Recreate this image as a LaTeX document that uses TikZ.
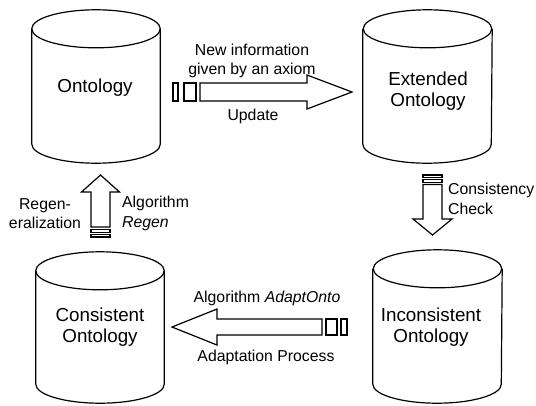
\documentclass[tikz,border=0pt]{standalone}
\usepackage{fontspec}
\setmainfont{Liberation Sans}
\begin{document}
\begin{tikzpicture}[x=1pt,y=1pt,
  cyl/.style={draw=black,line width=1.2pt},
  cylnode/.style={inner sep=0pt,align=center,font=\fontsize{18.8}{21.5}\selectfont},
  blockarrow/.style={draw=black,line width=1.2pt,fill=white,line join=miter},
  lbl/.style={inner sep=0pt,font=\fontsize{15.8}{19.5}\selectfont}]
\useasboundingbox (0,0) rectangle (536,-405);
% cylinders as named nodes
\node[cylnode,minimum width=128pt,minimum height=153pt] (ont) at (96,-86.5) {};
\node[cylnode,minimum width=129pt,minimum height=153pt] (ext) at (427.5,-86.5) {};
\node[cylnode,minimum width=128pt,minimum height=151pt] (cons) at (100,-327.5) {};
\node[cylnode,minimum width=129pt,minimum height=153pt] (incons) at (437.5,-326.5) {};
\foreach \n in {ont,ext,cons,incons}{
  \path (\n.north west) coordinate (nw) (\n.north east) coordinate (ne) (\n.south west) coordinate (sw) (\n.north) coordinate (nn);
  \draw[cyl] ([yshift=-19pt]nw) -- ([yshift=19pt]sw)
     arc[start angle=180,end angle=360,x radius=64.25pt,y radius=19pt] -- ([yshift=-19pt]ne);
  \draw[cyl] ([yshift=-19pt]nn) ellipse[x radius=64.25pt,y radius=19pt];
}
\node[cylnode] (ontt) at (95,-88) {Ontology};
\node[cylnode] (extt) at (428,-91) {Extended\\Ontology};
\node[cylnode] (const) at (100,-327) {Consistent\\Ontology};
\node[cylnode] (inconst) at (431,-327) {Inconsistent\\Ontology};
% Update arrow
\draw[blockarrow] (200,-83) -- (307,-83) -- (307,-75) -- (352,-92) -- (307,-109) -- (307,-101) -- (200,-101) -- cycle;
\draw[blockarrow] (173,-83) rectangle (178,-101);
\draw[blockarrow] (184,-83) rectangle (196,-101);
% Adaptation arrow
\draw[blockarrow] (322,-319) -- (217,-319) -- (217,-309) -- (172,-327) -- (217,-345) -- (217,-335) -- (322,-335) -- cycle;
\draw[blockarrow] (326,-319) rectangle (337,-335);
\draw[blockarrow] (341,-319) rectangle (347,-335);
% Regen arrow
\draw[blockarrow] (91,-227) -- (91,-192) -- (81.5,-192) -- (100.5,-175) -- (119.5,-192) -- (110,-192) -- (110,-227) -- cycle;
\draw[blockarrow] (91,-229.5) rectangle (110,-232.5);
\draw[blockarrow] (91,-234.5) rectangle (110,-237);
% Consistency check arrow
\draw[blockarrow] (423,-184.5) -- (442,-184.5) -- (442,-219) -- (452,-219) -- (432.5,-235) -- (413,-219) -- (423,-219) -- cycle;
\draw[blockarrow] (423,-175) rectangle (442,-177.5);
\draw[blockarrow] (423,-179.5) rectangle (442,-182.5);
% labels
\node[lbl,align=center] (newinfo) at (252,-61) {New information\\given by an axiom};
\node[lbl] (update) at (253,-116) {Update};
\node[lbl] (alg) at (267,-298) {Algorithm \textit{AdaptOnto}};
\node[lbl] (adapt) at (266,-357) {Adaptation Process};
\node[lbl,anchor=west,align=left] (cc) at (448,-199) {Consistency\\Check};
\node[lbl,align=center] (regen) at (45,-213.5) {Regen-\\eralization};
\node[lbl,anchor=west,align=left] (algr) at (122,-213.5) {Algorithm\\\textit{Regen}};
\end{tikzpicture}
\end{document}
